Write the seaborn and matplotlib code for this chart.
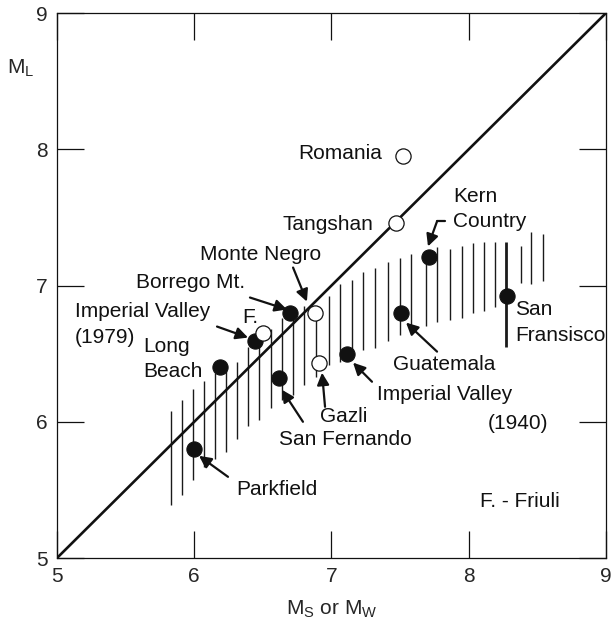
import matplotlib
matplotlib.use("Agg")
import matplotlib.pyplot as plt
import seaborn as sns
import pandas as pd

# Points (MS or MW, ML)
filled_names = ["Parkfield", "Long Beach", "Imperial Valley (1979)", "San Fernando",
                "Borrego Mt.", "Imperial Valley (1940)", "Guatemala", "Kern Country",
                "San Fransisco"]
filled_ms = [6.00, 6.19, 6.44, 6.62, 6.70, 7.11, 7.51, 7.71, 8.28]
filled_ml = [5.80, 6.40, 6.59, 6.32, 6.80, 6.50, 6.80, 7.21, 6.92]

open_names = ["F.", "Monte Negro", "Gazli", "Tangshan", "Romania"]
open_ms = [6.50, 6.88, 6.91, 7.47, 7.52]
open_ml = [6.65, 6.80, 6.43, 7.46, 7.95]

# hatched band: vertical bars (x, low, high)
band_x = [5.83, 5.91, 5.99, 6.07, 6.15, 6.23, 6.31, 6.39, 6.47, 6.56, 6.64,
          6.72, 6.80, 6.89, 6.98, 7.06, 7.15, 7.23, 7.32, 7.41, 7.50, 7.58,
          7.69, 7.77, 7.86, 7.95, 8.03, 8.11, 8.19, 8.27, 8.38, 8.45, 8.54]
band_lo = [5.39, 5.46, 5.57, 5.67, 5.73, 5.78, 5.87, 5.97, 6.01, 6.10, 6.16,
           6.20, 6.27, 6.33, 6.42, 6.44, 6.51, 6.53, 6.54, 6.59, 6.64, 6.66,
           6.70, 6.73, 6.75, 6.76, 6.80, 6.81, 6.84, 6.55, 7.02, 7.01, 7.03]
band_hi = [6.08, 6.16, 6.24, 6.30, 6.36, 6.40, 6.44, 6.55, 6.60, 6.68, 6.76,
           6.79, 6.85, 6.80, 6.92, 7.01, 7.04, 7.10, 7.13, 7.17, 7.20, 7.23,
           7.26, 7.28, 7.27, 7.29, 7.31, 7.32, 7.32, 7.32, 7.29, 7.39, 7.38]
band_lw = [1.0] * 29 + [2.0] + [1.0] * 3

ticks = [5, 6, 7, 8, 9]

df_f = pd.DataFrame({"ms": filled_ms, "ml": filled_ml, "name": filled_names})
df_o = pd.DataFrame({"ms": open_ms, "ml": open_ml, "name": open_names})

sns.set_style("ticks")
plt.rcParams["font.family"] = ["Liberation Sans", "DejaVu Sans"]
plt.rcParams["font.size"] = 15

fig = plt.figure(figsize=(6.12, 6.21), dpi=100)
ax = fig.add_axes([0.0931, 0.1014, 0.8971, 0.8776])

ax.vlines(band_x, band_lo, band_hi, colors="#1a1a1a", linewidths=band_lw, zorder=1)
sns.lineplot(x=[ticks[0], ticks[-1]], y=[ticks[0], ticks[-1]], color="#111111",
             linewidth=1.9, ax=ax, zorder=2)
sns.scatterplot(data=df_f, x="ms", y="ml", s=120, color="#111111",
                edgecolor="#111111", linewidth=0.8, ax=ax, zorder=4)
sns.scatterplot(data=df_o, x="ms", y="ml", s=120, color="white",
                edgecolor="#111111", linewidth=0.9, ax=ax, zorder=4)

ax.set_xlim(5, 9)
ax.set_ylim(5, 9)
ax.set_xticks(ticks)
ax.set_yticks(ticks)
ax.tick_params(direction="in", length=19.4, width=0.9, top=True, right=True,
               labelsize=15, pad=6.5, color="#111111")
for sp in ax.spines.values():
    sp.set_linewidth(0.9)
    sp.set_color("#111111")

ax.set_xlabel(r"$\mathregular{M_S}$ or $\mathregular{M_W}$", fontsize=15, labelpad=9)
ax.set_ylabel(r"$\mathregular{M_L}$", fontsize=15, rotation=0, ha="center", va="center")
ax.yaxis.set_label_coords(-0.066, 0.899)

# labels (text position, alignment) - one line each
labels = [
    ("Romania", 7.368, 7.971, "right"),
    ("Tangshan", 7.302, 7.449, "right"),
    ("Kern", 7.885, 7.655, "left"),
    ("Country", 7.885, 7.471, "left"),
    ("Monte Negro", 6.042, 7.228, "left"),
    ("Borrego Mt.", 5.576, 7.022, "left"),
    ("Imperial Valley", 5.131, 6.808, "left"),
    ("(1979)", 5.131, 6.617, "left"),
    ("F.", 6.348, 6.765, "left"),
    ("Long", 5.627, 6.551, "left"),
    ("Beach", 5.627, 6.368, "left"),
    ("San Fernando", 6.617, 5.868, "left"),
    ("Gazli", 6.916, 6.037, "left"),
    ("Imperial Valley", 7.332, 6.199, "left"),
    ("(1940)", 8.140, 5.985, "left"),
    ("Guatemala", 7.448, 6.419, "left"),
    ("San", 8.337, 6.824, "left"),
    ("Fransisco", 8.337, 6.632, "left"),
    ("Parkfield", 6.304, 5.500, "left"),
    ("F. - Friuli", 8.082, 5.412, "left"),
]
for txt, x, y, ha in labels:
    ax.text(x, y, txt, ha=ha, va="center", fontsize=15, color="#111111")

# arrows: tail -> head
arrows = [
    ((6.246, 5.596), (6.035, 5.750)),
    ((6.792, 6.000), (6.639, 6.235)),
    ((6.953, 6.110), (6.931, 6.360)),
    ((7.295, 6.294), (7.157, 6.434)),
    ((7.769, 6.515), (7.543, 6.728)),
    ((7.769, 7.471), (7.703, 7.287)),
    ((6.720, 7.132), (6.821, 6.882)),
    ((6.406, 6.912), (6.676, 6.824)),
    ((6.166, 6.699), (6.392, 6.618)),
]
for tail, head in arrows:
    ax.annotate("", xy=head, xytext=tail,
                arrowprops=dict(arrowstyle="-|>", color="#111111", lw=1.6,
                                mutation_scale=18, shrinkA=0, shrinkB=0),
                zorder=3)
# little hook on the Kern Country arrow
ax.plot([7.827, 7.769], [7.471, 7.471], color="#111111", lw=1.6)

fig.savefig("out.png", dpi=100)
